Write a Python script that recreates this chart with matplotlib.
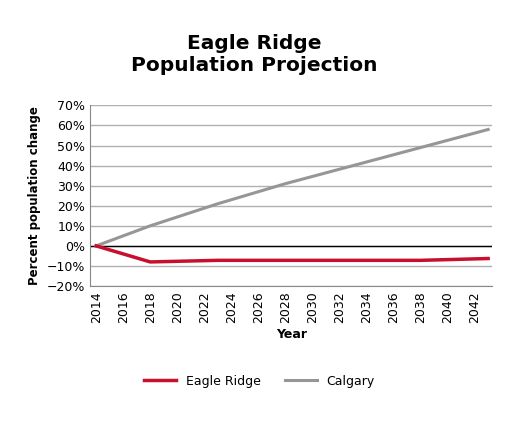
import matplotlib.pyplot as plt
from matplotlib.ticker import PercentFormatter

years = [2014, 2018, 2023, 2028, 2033, 2038, 2043]
eagle_ridge = [0.0, -8.0, -7.2, -7.2, -7.2, -7.2, -6.3]
calgary = [0.0, 10.0, 21.0, 31.0, 40.0, 49.0, 58.0]

fig = plt.figure(figsize=(5.09, 4.25), dpi=100)
ax = fig.add_axes([0.177, 0.327, 0.79, 0.425])

ax.plot(years, calgary, color='#969696', lw=2.2, label='Calgary', zorder=3)
ax.plot(years, eagle_ridge, color='#c8102e', lw=2.5, label='Eagle Ridge', zorder=4)
ax.axhline(0, color='black', lw=1, zorder=2)

ax.set_xlim(2013.55, 2043.3)
ax.set_ylim(-20, 70)
ax.set_xticks(range(2014, 2043, 2))
ax.set_yticks(range(-20, 71, 10))
ax.yaxis.set_major_formatter(PercentFormatter(decimals=0))
ax.grid(axis='y', color='#b0b0b0', lw=1)
ax.set_axisbelow(True)
for s in ['top', 'right']:
    ax.spines[s].set_visible(False)
ax.spines['left'].set_color('#888888')
ax.spines['bottom'].set_color('#888888')
ax.tick_params(axis='x', rotation=90, labelsize=9, length=0)
ax.tick_params(axis='y', labelsize=9, length=0)
ax.set_xlabel('Year', fontsize=9, fontweight='bold')
ax.set_ylabel('Percent population change', fontsize=8.5, fontweight='bold')

fig.suptitle('Eagle Ridge\nPopulation Projection', fontsize=14.5, fontweight='bold', y=0.92)

handles, labels = ax.get_legend_handles_labels()
fig.legend(handles[::-1], labels[::-1], loc='center', bbox_to_anchor=(0.51, 0.103),
           ncol=2, frameon=False, fontsize=9, handlelength=2.5)

fig.savefig('out.png', dpi=100)
